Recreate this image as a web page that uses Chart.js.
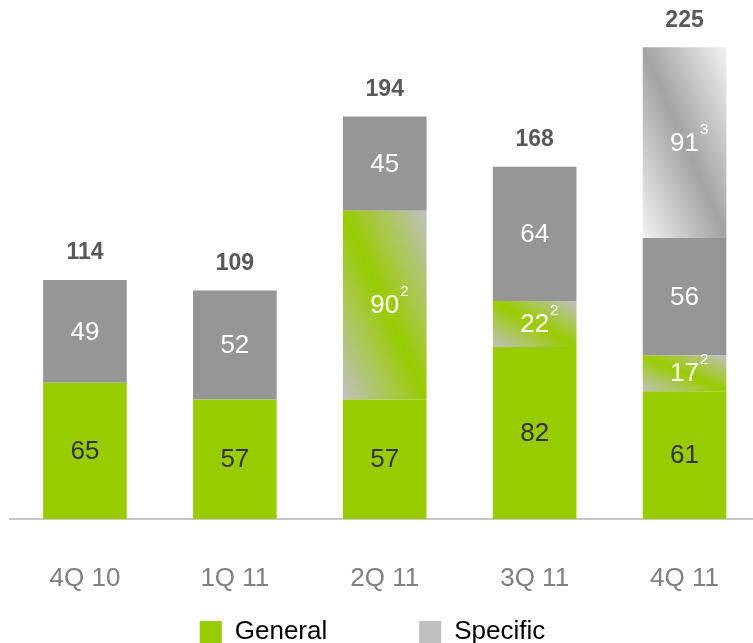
<!DOCTYPE html>
<html><head><meta charset="utf-8">
<script src="https://cdn.jsdelivr.net/npm/chart.js@4.4.1/dist/chart.umd.min.js"></script>
<style>
html,body{margin:0;padding:0;overflow:hidden;background:#fff}
#wrap{width:753px;height:643px;overflow:hidden;position:relative}
canvas{position:absolute;left:0;top:0}
</style>
</head><body>
<div id="wrap"><canvas id="c"></canvas></div>
<script>
// ---- data ----
const categories = ['4Q 10', '1Q 11', '2Q 11', '3Q 11', '4Q 11'];
const generalBase = [65, 57, 57, 82, 61];
const generalFootnoted = [null, null, 90, 22, 17];   // footnote 2
const specificBase = [49, 52, 45, 64, 56];
const specificFootnoted = [null, null, null, null, 91]; // footnote 3
const totals = [114, 109, 194, 168, 225];
const legendLabels = ['General', 'Specific'];

const FONT = '"Liberation Sans", Arial, sans-serif';
const GREEN = '#99CC00';
const GRAY = '#969696';
const LIGHTGRAY = '#C0C0C0';

function diagGradient(ctx, el, edge, mid) {
  const w = el.width, h = Math.abs(el.base - el.y);
  const cx = el.x, cy = (el.y + el.base) / 2;
  const len = Math.sqrt(w * w + h * h) || 1;
  const ux = h / len, uy = -w / len;
  const d = w * h / len;
  const g = ctx.createLinearGradient(cx - d * ux, cy - d * uy, cx + d * ux, cy + d * uy);
  g.addColorStop(0, edge);
  g.addColorStop(0.5, mid);
  g.addColorStop(1, edge);
  return g;
}

const gradientPlugin = {
  id: 'gradFill',
  afterLayout(chart) {
    const lg = chart.legend;
    if (lg) {
      lg.left -= 14; lg.right -= 14;
      lg.top = 527; lg.bottom = 660; lg.height = lg.bottom - lg.top;
    }
  },
  beforeDatasetsDraw(chart) {
    const ctx = chart.ctx;
    chart.data.datasets.forEach((ds, di) => {
      if (!ds._grad) return;
      const meta = chart.getDatasetMeta(di);
      meta.data.forEach(el => {
        if (!el || isNaN(el.y)) return;
        const g = diagGradient(ctx, el, ds._grad[0], ds._grad[1]);
        el.options = Object.assign({}, el.options, {backgroundColor: g});
      });
    });
  }
};

const labelPlugin = {
  id: 'segLabels',
  afterDatasetsDraw(chart) {
    const ctx = chart.ctx;
    ctx.save();
    ctx.textAlign = 'center';
    ctx.textBaseline = 'middle';
    const topY = [];
    chart.data.datasets.forEach((ds, di) => {
      const meta = chart.getDatasetMeta(di);
      meta.data.forEach((el, i) => {
        const v = ds.data[i];
        if (v === null || v === undefined) return;
        const cy = (el.y + el.base) / 2;
        topY[i] = topY[i] === undefined ? el.y : Math.min(topY[i], el.y);
        ctx.font = '26px ' + FONT;
        ctx.fillStyle = ds._labelColor;
        const txt = String(v);
        ctx.fillText(txt, el.x, cy + 1);
        if (ds._note) {
          const tw = ctx.measureText(txt).width;
          ctx.font = '15px ' + FONT;
          ctx.textAlign = 'left';
          ctx.fillText(ds._note, el.x + tw / 2 + 1, cy - 13);
          ctx.textAlign = 'center';
        }
      });
    });
    ctx.font = 'bold 23px ' + FONT;
    ctx.fillStyle = '#595959';
    const xs = chart.getDatasetMeta(0).data;
    totals.forEach((t, i) => {
      ctx.fillText(String(t), xs[i].x, topY[i] - 27);
    });
    ctx.restore();
  }
};

const cv = document.getElementById('c');
cv.width = 763; cv.height = 643;
cv.style.width = '763px'; cv.style.height = '643px';

new Chart(cv, {
  type: 'bar',
  data: {
    labels: categories,
    datasets: [
      {label: 'General', data: generalBase, backgroundColor: GREEN, _labelColor: '#333333'},
      {label: 'General ', data: generalFootnoted, backgroundColor: GREEN, _grad: [LIGHTGRAY, GREEN], _labelColor: '#FFFFFF', _note: '2'},
      {label: 'Specific', data: specificBase, backgroundColor: GRAY, _labelColor: '#FFFFFF'},
      {label: 'Specific ', data: specificFootnoted, backgroundColor: GRAY, _grad: ['#F2F2F2', '#A3A3A3'], _labelColor: '#FFFFFF', _note: '3'}
    ]
  },
  options: {
    responsive: false,
    animation: false,
    devicePixelRatio: 1,
    datasets: {bar: {barPercentage: 0.558, categoryPercentage: 1, borderWidth: 0}},
    layout: {padding: {left: 10, right: 0, top: 0, bottom: 0}},
    scales: {
      x: {
        stacked: true,
        grid: {display: false, drawTicks: false},
        border: {display: true, color: '#C8C8C8', width: 2},
        ticks: {color: '#808080', font: {family: FONT, size: 26}, padding: 44, maxRotation: 0, autoSkip: false},
        afterFit(scale) { scale.height = 75; }
      },
      y: {stacked: true, display: false, min: 0, max: 247.6}
    },
    plugins: {
      tooltip: {enabled: false},
      legend: {
        position: 'bottom',
        maxHeight: 49,
        labels: {
          font: {family: FONT, size: 26},
          color: '#404040',
          boxWidth: 22,
          boxHeight: 22,
          padding: 92,
          generateLabels() {
            return [
              {text: legendLabels[0], fillStyle: GREEN, strokeStyle: GREEN, lineWidth: 0, hidden: false, datasetIndex: 0},
              {text: legendLabels[1], fillStyle: LIGHTGRAY, strokeStyle: LIGHTGRAY, lineWidth: 0, hidden: false, datasetIndex: 2}
            ];
          }
        }
      }
    }
  },
  plugins: [gradientPlugin, labelPlugin]
});
</script>
</body></html>
